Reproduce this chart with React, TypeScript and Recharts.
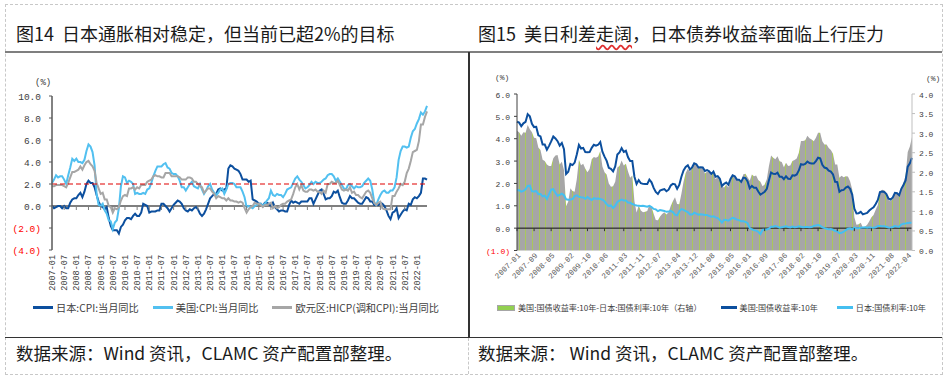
import React from "react";
import {
  Area,
  ComposedChart,
  Legend,
  Line,
  LineChart,
  ReferenceLine,
  XAxis,
  YAxis,
} from "recharts";

// months 2007-01 .. 2022-06
const months: string[] = [];
for (let y = 2007; y <= 2022; y++) {
  for (let m = 1; m <= 12; m++) {
    if (y === 2022 && m > 6) break;
    months.push(`${y}-${String(m).padStart(2, "0")}`);
  }
}

// 图14: CPI yoy, %
const japanCpi = [
  0.0, -0.2, -0.1, 0.0, 0.0, -0.2, 0.0, -0.2, -0.2, 0.3, 0.6, 0.7,
  0.7, 1.0, 1.2, 0.8, 1.3, 2.0, 2.3, 2.1, 2.1, 1.7, 1.0, 0.4,
  0.0, -0.1, -0.3, -0.1, -1.1, -1.8, -2.2, -2.2, -2.2, -2.5, -1.9, -1.7,
  -1.3, -1.1, -1.1, -1.2, -0.9, -0.7, -0.9, -0.9, -0.6, 0.2, 0.1, 0.0,
  -0.6, -0.5, -0.5, -0.5, -0.4, -0.4, 0.2, 0.2, 0.0, -0.2, -0.5, -0.2,
  0.1, 0.3, 0.5, 0.4, 0.2, -0.2, -0.4, -0.5, -0.3, -0.4, -0.2, -0.1,
  -0.3, -0.7, -0.9, -0.7, -0.3, 0.2, 0.7, 0.9, 1.1, 1.1, 1.5, 1.6,
  1.4, 1.5, 1.6, 3.4, 3.7, 3.6, 3.4, 3.3, 3.2, 2.9, 2.4, 2.4,
  2.4, 2.2, 2.3, 0.6, 0.5, 0.4, 0.2, 0.2, 0.0, 0.3, 0.3, 0.2,
  0.0, 0.3, -0.1, -0.3, -0.5, -0.4, -0.4, -0.5, -0.5, 0.1, 0.5, 0.3,
  0.4, 0.3, 0.2, 0.4, 0.4, 0.4, 0.4, 0.7, 0.7, 0.2, 0.6, 1.0,
  1.4, 1.5, 1.1, 0.6, 0.7, 0.7, 0.9, 1.3, 1.2, 1.4, 0.8, 0.3,
  0.2, 0.2, 0.5, 0.9, 0.7, 0.7, 0.5, 0.3, 0.2, 0.2, 0.5, 0.8,
  0.7, 0.4, 0.4, 0.1, 0.1, 0.1, 0.3, 0.2, 0.0, -0.4, -0.9, -1.2,
  -0.6, -0.5, -0.2, -1.1, -0.8, -0.5, -0.3, -0.4, 0.2, 0.1, 0.6, 0.8,
  0.7, 0.9, 1.2, 2.5, 2.5, 2.4,
];

const usCpi = [
  2.1, 2.4, 2.8, 2.6, 2.7, 2.7, 2.4, 2.0, 2.8, 3.5, 4.3, 4.1,
  4.3, 4.0, 4.0, 3.9, 4.2, 5.0, 5.6, 5.4, 4.9, 3.7, 1.1, 0.1,
  0.0, 0.2, -0.4, -0.7, -1.3, -1.4, -2.1, -1.5, -1.3, -0.2, 1.8, 2.7,
  2.6, 2.1, 2.3, 2.2, 2.0, 1.1, 1.2, 1.1, 1.1, 1.2, 1.1, 1.5,
  1.6, 2.1, 2.7, 3.2, 3.6, 3.6, 3.6, 3.8, 3.9, 3.5, 3.4, 3.0,
  2.9, 2.9, 2.7, 2.3, 1.7, 1.7, 1.4, 1.7, 2.0, 2.2, 1.8, 1.7,
  1.6, 2.0, 1.5, 1.1, 1.4, 1.8, 2.0, 1.5, 1.2, 1.0, 1.2, 1.5,
  1.6, 1.1, 1.5, 2.0, 2.1, 2.1, 2.0, 1.7, 1.7, 1.7, 1.3, 0.8,
  -0.1, 0.0, -0.1, -0.2, 0.0, 0.1, 0.2, 0.2, 0.0, 0.2, 0.5, 0.7,
  1.4, 1.0, 0.9, 1.1, 1.0, 1.0, 0.8, 1.1, 1.5, 1.6, 1.7, 2.1,
  2.5, 2.7, 2.4, 2.2, 1.9, 1.6, 1.7, 1.9, 2.2, 2.0, 2.2, 2.1,
  2.1, 2.2, 2.4, 2.5, 2.8, 2.9, 2.9, 2.7, 2.3, 2.5, 2.2, 1.9,
  1.6, 1.5, 1.9, 2.0, 1.8, 1.6, 1.8, 1.7, 1.7, 1.8, 2.1, 2.3,
  2.5, 2.3, 1.5, 0.3, 0.1, 0.6, 1.0, 1.3, 1.4, 1.2, 1.2, 1.4,
  1.4, 1.7, 2.6, 4.2, 5.0, 5.4, 5.4, 5.3, 5.4, 6.2, 6.8, 7.0,
  7.5, 7.9, 8.5, 8.3, 8.6, 9.1,
];

const euroHicp = [
  1.8, 1.8, 1.9, 1.9, 1.9, 1.9, 1.8, 1.7, 2.1, 2.6, 3.1, 3.1,
  3.2, 3.3, 3.6, 3.3, 3.7, 4.0, 4.1, 3.8, 3.6, 3.2, 2.1, 1.6,
  1.1, 1.2, 0.6, 0.6, 0.0, -0.1, -0.6, -0.2, -0.3, -0.1, 0.5, 0.9,
  1.0, 0.9, 1.6, 1.6, 1.7, 1.5, 1.7, 1.6, 1.9, 1.9, 1.9, 2.2,
  2.3, 2.4, 2.7, 2.8, 2.7, 2.7, 2.6, 2.6, 3.0, 3.0, 3.0, 2.7,
  2.7, 2.7, 2.7, 2.6, 2.4, 2.4, 2.4, 2.6, 2.6, 2.5, 2.2, 2.2,
  2.0, 1.8, 1.7, 1.2, 1.4, 1.6, 1.6, 1.3, 1.1, 0.7, 0.9, 0.8,
  0.7, 0.7, 0.5, 0.7, 0.5, 0.5, 0.4, 0.4, 0.3, 0.4, 0.3, -0.2,
  -0.6, -0.3, -0.1, 0.0, 0.3, 0.2, 0.2, 0.1, -0.1, 0.1, 0.1, 0.2,
  0.3, -0.2, 0.0, -0.2, -0.1, 0.1, 0.2, 0.2, 0.4, 0.5, 0.6, 1.1,
  1.7, 2.0, 1.5, 1.9, 1.4, 1.3, 1.3, 1.5, 1.5, 1.4, 1.5, 1.3,
  1.3, 1.1, 1.4, 1.2, 2.0, 2.0, 2.2, 2.1, 2.1, 2.3, 1.9, 1.5,
  1.4, 1.5, 1.4, 1.7, 1.2, 1.3, 1.0, 1.0, 0.8, 0.7, 1.0, 1.3,
  1.4, 1.2, 0.7, 0.3, 0.1, 0.3, 0.4, -0.2, -0.3, -0.3, -0.3, -0.3,
  0.9, 0.9, 1.3, 1.6, 2.0, 1.9, 2.2, 3.0, 3.4, 4.1, 4.9, 5.0,
  5.1, 5.9, 7.4, 7.4, 8.1, 8.6,
];

// 图15: 10y yields, %
const us10y = [
  4.76, 4.72, 4.56, 4.69, 4.75, 5.1, 5.0, 4.67, 4.52, 4.53, 4.15, 4.1,
  3.74, 3.74, 3.51, 3.68, 3.88, 4.1, 4.01, 3.89, 3.69, 3.81, 3.53, 2.42,
  2.52, 2.87, 2.82, 2.93, 3.29, 3.72, 3.56, 3.59, 3.4, 3.39, 3.4, 3.59,
  3.73, 3.69, 3.73, 3.85, 3.42, 3.2, 3.01, 2.7, 2.65, 2.54, 2.76, 3.29,
  3.39, 3.58, 3.41, 3.46, 3.17, 3.0, 3.0, 2.3, 1.98, 2.15, 2.01, 1.98,
  1.97, 1.97, 2.17, 2.05, 1.8, 1.62, 1.53, 1.68, 1.72, 1.75, 1.65, 1.72,
  1.91, 1.98, 1.96, 1.76, 1.93, 2.3, 2.58, 2.74, 2.81, 2.62, 2.72, 2.9,
  2.86, 2.71, 2.72, 2.71, 2.56, 2.6, 2.54, 2.42, 2.53, 2.3, 2.33, 2.21,
  1.88, 1.98, 2.04, 1.94, 2.2, 2.36, 2.32, 2.17, 2.17, 2.07, 2.26, 2.24,
  2.09, 1.78, 1.89, 1.81, 1.81, 1.64, 1.5, 1.56, 1.63, 1.76, 2.14, 2.49,
  2.43, 2.42, 2.48, 2.3, 2.3, 2.19, 2.32, 2.21, 2.2, 2.36, 2.35, 2.4,
  2.58, 2.86, 2.84, 2.87, 2.98, 2.91, 2.89, 2.89, 3.0, 3.15, 3.12, 2.83,
  2.71, 2.68, 2.57, 2.53, 2.4, 2.07, 2.06, 1.63, 1.7, 1.71, 1.81, 1.86,
  1.76, 1.5, 0.87, 0.66, 0.67, 0.73, 0.62, 0.65, 0.68, 0.79, 0.87, 0.93,
  1.08, 1.26, 1.61, 1.64, 1.62, 1.52, 1.32, 1.28, 1.37, 1.58, 1.56, 1.47,
  1.76, 1.93, 2.13, 2.75, 2.9, 3.14,
];

const jp10y = [
  1.7, 1.7, 1.63, 1.67, 1.74, 1.89, 1.9, 1.65, 1.64, 1.66, 1.52, 1.53,
  1.42, 1.45, 1.31, 1.52, 1.72, 1.74, 1.58, 1.45, 1.49, 1.54, 1.47, 1.29,
  1.27, 1.28, 1.3, 1.43, 1.47, 1.4, 1.38, 1.37, 1.31, 1.39, 1.32, 1.26,
  1.34, 1.32, 1.33, 1.31, 1.27, 1.2, 1.07, 0.99, 1.02, 0.9, 1.0, 1.17,
  1.23, 1.28, 1.24, 1.24, 1.15, 1.14, 1.08, 1.04, 1.01, 1.0, 0.99, 1.0,
  0.98, 0.96, 1.0, 0.94, 0.86, 0.84, 0.76, 0.81, 0.79, 0.77, 0.73, 0.74,
  0.77, 0.72, 0.6, 0.57, 0.75, 0.85, 0.82, 0.76, 0.72, 0.61, 0.61, 0.69,
  0.65, 0.6, 0.62, 0.61, 0.59, 0.59, 0.54, 0.51, 0.53, 0.48, 0.45, 0.37,
  0.25, 0.37, 0.36, 0.33, 0.4, 0.46, 0.43, 0.38, 0.36, 0.31, 0.31, 0.28,
  0.22, 0.0, -0.05, -0.09, -0.11, -0.16, -0.26, -0.08, -0.06, -0.06, -0.02, 0.06,
  0.06, 0.09, 0.07, 0.02, 0.04, 0.06, 0.08, 0.05, 0.03, 0.07, 0.04, 0.05,
  0.08, 0.06, 0.04, 0.05, 0.05, 0.04, 0.05, 0.1, 0.12, 0.14, 0.11, 0.04,
  0.0, -0.03, -0.05, -0.04, -0.07, -0.13, -0.14, -0.23, -0.21, -0.16, -0.09, -0.03,
  -0.01, -0.06, 0.02, 0.0, 0.0, 0.02, 0.03, 0.04, 0.02, 0.04, 0.02, 0.02,
  0.04, 0.1, 0.1, 0.09, 0.08, 0.06, 0.03, 0.02, 0.05, 0.09, 0.07, 0.06,
  0.16, 0.2, 0.21, 0.23, 0.24, 0.24,
];

// US - JP spread, right axis
const spread = [
  3.06, 3.02, 2.93, 3.02, 3.01, 3.21, 3.1, 3.02, 2.88, 2.87, 2.63, 2.57,
  2.32, 2.29, 2.2, 2.16, 2.16, 2.36, 2.43, 2.44, 2.2, 2.27, 2.06, 1.13,
  1.25, 1.59, 1.52, 1.5, 1.82, 2.32, 2.18, 2.22, 2.09, 2.0, 2.08, 2.33,
  2.39, 2.37, 2.4, 2.54, 2.15, 2.0, 1.94, 1.71, 1.63, 1.64, 1.76, 2.12,
  2.16, 2.3, 2.17, 2.22, 2.02, 1.86, 1.92, 1.26, 0.97, 1.15, 1.02, 0.98,
  0.99, 1.01, 1.17, 1.11, 0.94, 0.78, 0.77, 0.87, 0.93, 0.98, 0.92, 0.98,
  1.14, 1.26, 1.36, 1.19, 1.18, 1.45, 1.76, 1.98, 2.09, 2.01, 2.11, 2.21,
  2.21, 2.11, 2.1, 2.1, 1.97, 2.01, 2.0, 1.91, 2.0, 1.82, 1.88, 1.84,
  1.63, 1.61, 1.68, 1.61, 1.8, 1.9, 1.89, 1.79, 1.81, 1.76, 1.95, 1.96,
  1.87, 1.78, 1.94, 1.9, 1.92, 1.8, 1.76, 1.64, 1.69, 1.82, 2.16, 2.43,
  2.37, 2.33, 2.41, 2.28, 2.26, 2.13, 2.24, 2.16, 2.17, 2.29, 2.31, 2.35,
  2.5, 2.8, 2.8, 2.82, 2.93, 2.87, 2.84, 2.79, 2.88, 3.01, 3.01, 2.79,
  2.71, 2.71, 2.62, 2.57, 2.47, 2.2, 2.2, 1.86, 1.91, 1.87, 1.9, 1.89,
  1.77, 1.56, 0.85, 0.66, 0.67, 0.71, 0.59, 0.61, 0.66, 0.75, 0.85, 0.91,
  1.04, 1.16, 1.51, 1.55, 1.54, 1.46, 1.29, 1.26, 1.32, 1.49, 1.49, 1.41,
  1.6, 1.73, 1.92, 2.52, 2.66, 2.9,
];

const rightTicks = [
  "2007-01", "2007-09", "2008-05", "2009-02", "2009-10", "2010-06",
  "2011-03", "2011-11", "2012-07", "2013-04", "2013-12", "2014-08",
  "2015-05", "2016-01", "2016-09", "2017-06", "2018-02", "2018-10",
  "2019-07", "2020-03", "2020-11", "2021-08", "2022-04",
];

const leftData = months.map((month, i) => ({
  month,
  jp: japanCpi[i],
  us: usCpi[i],
  ez: euroHicp[i],
}));

const rightData = months.map((month, i) => ({
  month,
  spread: spread[i],
  us10y: us10y[i],
  jp10y: jp10y[i],
}));

const leftSeries = [
  { key: "jp", name: "日本:CPI:当月同比", color: "#0c4f9e" },
  { key: "us", name: "美国:CPI:当月同比", color: "#52c0f0" },
  { key: "ez", name: "欧元区:HICP(调和CPI):当月同比", color: "#a6a6a6" },
];

const rightSeries = [
  { key: "spread", name: "美国:国债收益率:10年-日本:国债利率:10年（右轴）", color: "#92d050", bar: true },
  { key: "us10y", name: "美国:国债收益率:10年", color: "#0c4f9e" },
  { key: "jp10y", name: "日本:国债利率:10年", color: "#45bff0" },
];

const CJK = '"Noto Sans CJK SC", "Noto Sans", sans-serif';
const MONO = '"Liberation Mono", "DejaVu Sans Mono", monospace';

// left plot: y 96..250 for 10..-4
const L_ZERO = 96 + (10 / 14) * 154;
// right plot: y 94..250.5 for 6..-1 (left axis)
const R_ZERO = 94 + (6 / 7) * 156.5;

const fmt = (v: number) => (v < 0 ? `(${Math.abs(v).toFixed(1)})` : v.toFixed(1));

function LeftXTick({ x, payload }: any) {
  return (
    <g>
      <line x1={x} x2={x} y1={L_ZERO} y2={L_ZERO + 4} stroke="#7f7f7f" />
      <text
        transform={`translate(${x + 3},255) rotate(-90)`}
        textAnchor="end"
        fontSize={8.5}
        fontFamily={MONO}
        fill="#404040"
      >
        {payload.value}
      </text>
    </g>
  );
}

function RightXTick({ x, payload }: any) {
  return (
    <g>
      <line x1={x} x2={x} y1={R_ZERO} y2={R_ZERO + 3} stroke="#333" />
      <text
        transform={`translate(${x + 4},256) rotate(-45)`}
        textAnchor="end"
        fontSize={7.8}
        fontFamily={MONO}
        fill="#595959"
      >
        {payload.value}
      </text>
    </g>
  );
}

function YTick({ x, y, payload, textAnchor, fontSize }: any) {
  const v = payload.value as number;
  return (
    <text
      x={x}
      y={y}
      dy={3.5}
      textAnchor={textAnchor}
      fontSize={fontSize}
      fontFamily={MONO}
      fill={v < 0 ? "#ff0000" : "#404040"}
    >
      {fmt(v)}
    </text>
  );
}

function LegendRow({ items, fontSize, swatch, gap }: any) {
  return (
    <div style={{ display: "flex", alignItems: "center", fontFamily: CJK, fontSize, color: "#404040", whiteSpace: "nowrap" }}>
      {items.map((it: any) => (
        <span key={it.key} style={{ display: "inline-flex", alignItems: "center", marginRight: gap }}>
          <span
            style={{
              display: "inline-block",
              width: swatch,
              height: it.bar ? 4 : 2.5,
              background: it.color,
              border: it.bar ? "1px solid #a6a6a6" : "none",
              marginRight: 3,
            }}
          />
          <span>{it.name}</span>
        </span>
      ))}
    </div>
  );
}

const abs = (s: React.CSSProperties): React.CSSProperties => ({ position: "absolute", ...s });

export default function App() {
  return (
    <div style={abs({ left: 0, top: 0, width: 947, height: 380, background: "#fff", overflow: "hidden", fontFamily: CJK })}>
      {/* frame */}
      <div style={abs({ left: 5, top: 4, width: 936, height: 369, border: "1px dashed #c8c8c8" })} />
      <div style={abs({ left: 5, top: 51, width: 937, height: 2, background: "#7f7f7f" })} />
      <div style={abs({ left: 468, top: 52, width: 1.5, height: 286, background: "#333" })} />
      <div style={abs({ left: 468, top: 338, width: 0, height: 36, borderLeft: "1px dashed #c8c8c8" })} />
      <div style={abs({ left: 5, top: 336.5, width: 937, height: 1.5, background: "#333" })} />

      {/* titles */}
      <div style={abs({ left: 16, top: 22, fontSize: 18, lineHeight: "22px", color: "#1a1a1a", whiteSpace: "nowrap" })}>
        图14&nbsp; 日本通胀相对稳定，但当前已超2%的目标
      </div>
      <div style={abs({ left: 478, top: 22, fontSize: 18, lineHeight: "22px", color: "#1a1a1a", whiteSpace: "nowrap" })}>
        图15&nbsp; 美日利差
        <span style={{ textDecoration: "underline wavy #e03030", textUnderlineOffset: 3 }}>走阔</span>
        ，日本债券收益率面临上行压力
      </div>

      {/* unit labels */}
      <div style={abs({ left: 35, top: 78, fontSize: 9, fontFamily: MONO, color: "#404040" })}>(%)</div>
      <div style={abs({ left: 495, top: 73, fontSize: 8, fontFamily: MONO, color: "#404040" })}>(%)</div>
      <div style={abs({ left: 926, top: 74, fontSize: 8, fontFamily: MONO, color: "#404040" })}>(%)</div>

      {/* 图14 */}
      <div style={abs({ left: 0, top: 0 })}>
        <LineChart width={470} height={300} data={leftData} margin={{ top: 96, right: 43, bottom: 10, left: 0 }}>
          <XAxis dataKey="month" interval={5} axisLine={false} tickLine={false} height={40} tick={<LeftXTick />} />
          <YAxis
            domain={[-4, 10]}
            ticks={[-4, -2, 0, 2, 4, 6, 8, 10]}
            interval={0}
            width={52}
            axisLine={{ stroke: "#595959", strokeWidth: 1.5 }}
            tickLine={{ stroke: "#595959" }}
            tickSize={3}
            tickMargin={8}
            tick={<YTick fontSize={9.5} />}
          />
          <ReferenceLine y={0} stroke="#7f7f7f" strokeWidth={2} />
          {leftSeries.map((s) => (
            <Line
              key={s.key}
              dataKey={s.key}
              name={s.name}
              stroke={s.color}
              strokeWidth={2}
              dot={false}
              type="linear"
              isAnimationActive={false}
            />
          ))}
          <ReferenceLine y={2} stroke="#e00000" strokeWidth={1.2} strokeDasharray="5 3" />
          <Legend
            layout="horizontal"
            align="center"
            verticalAlign="middle"
            wrapperStyle={{ left: 33, top: 300, width: 430 }}
            content={() => <LegendRow items={leftSeries} fontSize={10.2} swatch={20} gap={14} />}
          />
        </LineChart>
      </div>

      {/* 图15 */}
      <div style={abs({ left: 470, top: 0 })}>
        <ComposedChart width={477} height={300} data={rightData} margin={{ top: 94, right: 0, bottom: 9.5, left: 0 }}>
          <defs>
            <pattern id="spreadFill" width="20" height="10" patternUnits="userSpaceOnUse">
              <rect width="20" height="10" fill="#a6a6a6" />
              <rect x="2" width="1" height="10" fill="#a9c85c" />
              <rect x="9" width="1" height="10" fill="#a9c85c" />
              <rect x="15" width="1" height="10" fill="#a9c85c" />
            </pattern>
          </defs>
          <XAxis
            dataKey="month"
            scale="point"
            ticks={rightTicks}
            interval={0}
            axisLine={false}
            tickLine={false}
            height={40}
            tick={<RightXTick />}
          />
          <YAxis
            yAxisId="l"
            domain={[-1, 6]}
            ticks={[-1, 0, 1, 2, 3, 4, 5, 6]}
            interval={0}
            width={47}
            axisLine={{ stroke: "#404040" }}
            tickLine={{ stroke: "#404040" }}
            tickSize={3}
            tickMargin={4}
            tick={<YTick fontSize={8} />}
          />
          <YAxis
            yAxisId="r"
            orientation="right"
            domain={[0, 4]}
            ticks={[0, 0.5, 1, 1.5, 2, 2.5, 3, 3.5, 4]}
            interval={0}
            width={35}
            axisLine={{ stroke: "#bfbfbf" }}
            tickLine={{ stroke: "#bfbfbf" }}
            tickSize={3}
            tickMargin={4}
            tick={<YTick fontSize={8} />}
          />
          <Area
            yAxisId="r"
            dataKey="spread"
            name={rightSeries[0].name}
            type="linear"
            stroke="none"
            fill="url(#spreadFill)"
            fillOpacity={1}
            isAnimationActive={false}
          />
          <ReferenceLine yAxisId="l" y={0} stroke="#111" strokeWidth={1} />
          <Line
            yAxisId="l"
            dataKey="us10y"
            name={rightSeries[1].name}
            stroke={rightSeries[1].color}
            strokeWidth={2}
            dot={false}
            type="linear"
            isAnimationActive={false}
          />
          <Line
            yAxisId="l"
            dataKey="jp10y"
            name={rightSeries[2].name}
            stroke={rightSeries[2].color}
            strokeWidth={2}
            dot={false}
            type="linear"
            isAnimationActive={false}
          />
          <Legend
            layout="horizontal"
            align="center"
            verticalAlign="middle"
            wrapperStyle={{ left: 27, top: 302, width: 450 }}
            content={() => <LegendRow items={rightSeries} fontSize={8.1} swatch={16} gap={19} />}
          />
        </ComposedChart>
      </div>

      {/* sources */}
      <div style={abs({ left: 16, top: 343, fontSize: 17.5, lineHeight: "20px", color: "#1a1a1a", whiteSpace: "nowrap" })}>
        数据来源：Wind 资讯，CLAMC 资产配置部整理。
      </div>
      <div style={abs({ left: 478, top: 343, fontSize: 17.5, lineHeight: "20px", color: "#1a1a1a", whiteSpace: "nowrap" })}>
        数据来源：&nbsp;Wind 资讯，CLAMC 资产配置部整理。
      </div>
    </div>
  );
}
